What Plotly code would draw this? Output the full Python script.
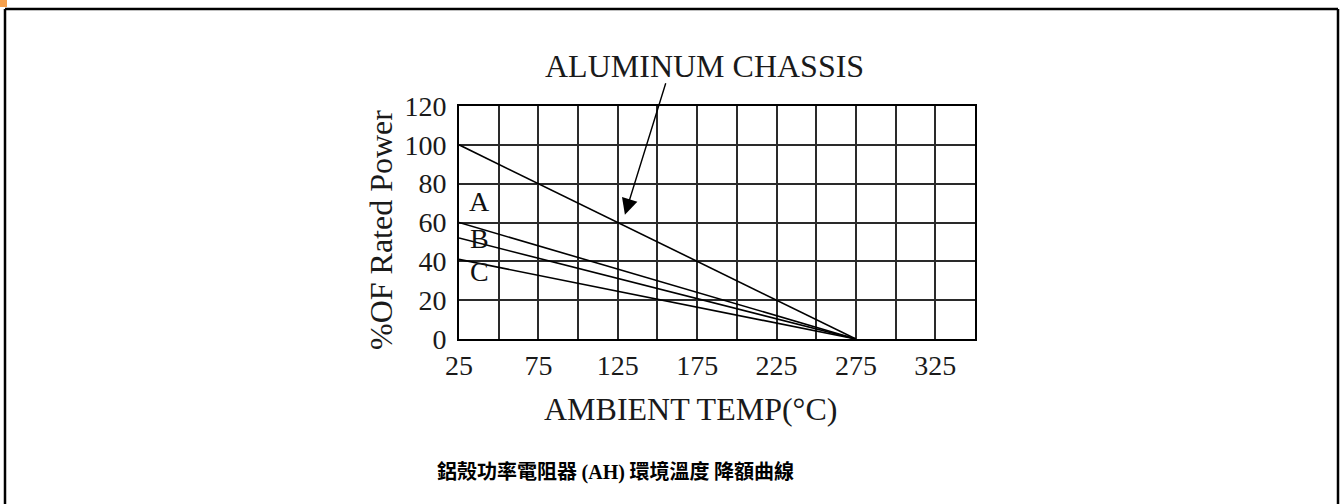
import plotly.graph_objects as go

# ---- data ----
temp_points = [25, 275]
aluminum_chassis = [100, 0]
curve_a = [60, 0]
curve_b = [52, 0]
curve_c = [41, 0]

x_ticks = [25, 75, 125, 175, 225, 275, 325]
y_ticks = [0, 20, 40, 60, 80, 100, 120]
curve_labels = ["A", "B", "C"]
curve_label_pos = [(38, 71), (38, 52), (38, 35)]

title_text = "ALUMINUM CHASSIS"
x_title = "AMBIENT TEMP(°C)"
y_title = "%OF Rated Power"
caption = "<b>鋁殼功率電阻器 <span style='font-family:Liberation Serif'>(AH)</span> 環境溫度 降額曲線</b>"

# ---- layout geometry (pixels) ----
W, H = 1343, 504
PL, PR, PT, PB = 459, 975, 106, 339


def px(x):
    return (x - PL) / (PR - PL)


def py(y):
    return (PB - y) / (PB - PT)


SERIF = "Liberation Serif, Times New Roman, serif"

fig = go.Figure()

line_style = dict(color="black", width=1.6)
for name, ys in [("Aluminum chassis", aluminum_chassis), ("A", curve_a),
                 ("B", curve_b), ("C", curve_c)]:
    fig.add_trace(go.Scatter(x=temp_points, y=ys, mode="lines", name=name,
                             line=line_style, showlegend=False, hoverinfo="skip"))

annotations = []
for lab, (lx, ly) in zip(curve_labels, curve_label_pos):
    annotations.append(dict(x=lx, y=ly, xref="x", yref="y", text=lab,
                            xanchor="center", yanchor="middle",
                            showarrow=False, font=dict(family=SERIF, size=28, color="#111")))

# arrow from title to the aluminum chassis curve
annotations.append(dict(x=129.5, y=64, xref="x", yref="y", ax=155.5, ay=132.5,
                        axref="x", ayref="y", text="", showarrow=True,
                        arrowhead=2, arrowsize=2.3, arrowwidth=1.4, arrowcolor="black"))
annotations.append(dict(x=px(704), y=py(66), xref="paper", yref="paper", text=title_text,
                        xanchor="center", yanchor="middle",
                        showarrow=False, font=dict(family=SERIF, size=32, color="#1a1a1a")))
annotations.append(dict(x=px(690), y=py(409), xref="paper", yref="paper", text=x_title,
                        xanchor="center", yanchor="middle",
                        showarrow=False, font=dict(family=SERIF, size=32, color="#1a1a1a")))
annotations.append(dict(x=px(381), y=py(230), xref="paper", yref="paper", text=y_title,
                        xanchor="center", yanchor="middle",
                        textangle=-90, showarrow=False,
                        font=dict(family=SERIF, size=32, color="#1a1a1a")))
annotations.append(dict(x=px(615), y=py(470), xref="paper", yref="paper", text=caption,
                        xanchor="center", yanchor="middle",
                        showarrow=False,
                        font=dict(family="Noto Sans CJK TC, Noto Sans CJK SC, serif",
                                  size=20, color="black")))

shapes = [
    # page frame
    dict(type="line", xref="paper", yref="paper", x0=px(5), x1=px(5), y0=py(9), y1=py(520),
         line=dict(color="black", width=2.5)),
    dict(type="line", xref="paper", yref="paper", x0=px(5), x1=px(1338), y0=py(9), y1=py(9),
         line=dict(color="black", width=2.5)),
    dict(type="line", xref="paper", yref="paper", x0=px(1338), x1=px(1338), y0=py(9), y1=py(520),
         line=dict(color="black", width=2.5)),
    dict(type="rect", xref="paper", yref="paper", x0=px(0), x1=px(7), y0=py(0), y1=py(7),
         fillcolor="#F5A04C", line=dict(width=0)),
]

fig.update_layout(
    width=W, height=H,
    margin=dict(l=PL, r=W - PR, t=PT, b=H - PB, pad=0),
    paper_bgcolor="white", plot_bgcolor="white",
    annotations=annotations, shapes=shapes,
    xaxis=dict(range=[25, 350], tickvals=x_ticks, ticktext=[str(v) for v in x_ticks],
               showgrid=True, gridcolor="#2a2a2a", gridwidth=2,
               minor=dict(dtick=25, tick0=25, showgrid=True, gridcolor="#2a2a2a", gridwidth=2),
               showline=True, linecolor="black", linewidth=2, mirror=True,
               zeroline=False, ticks="", ticklabelstandoff=0,
               tickfont=dict(family=SERIF, size=28, color="#1a1a1a")),
    yaxis=dict(range=[0, 120], tickvals=y_ticks, ticktext=[str(v) for v in y_ticks],
               showgrid=True, gridcolor="#2a2a2a", gridwidth=2,
               showline=True, linecolor="black", linewidth=2, mirror=True,
               zeroline=False, ticks="", ticklabelstandoff=5,
               tickfont=dict(family=SERIF, size=28, color="#1a1a1a")),
)

fig.write_html("out.html", config={"displayModeBar": False},
               post_script="document.body.style.margin='0';document.body.style.overflow='hidden';")
